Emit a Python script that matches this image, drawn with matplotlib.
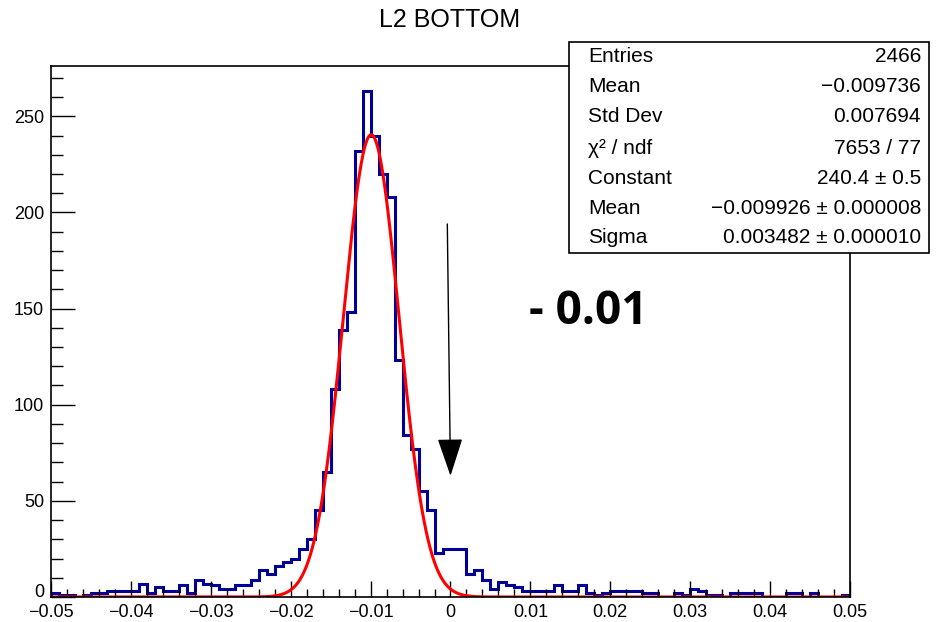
import numpy as np
import matplotlib
matplotlib.use("Agg")
import matplotlib.pyplot as plt
from matplotlib import font_manager
from matplotlib.patches import Rectangle
from matplotlib.ticker import MultipleLocator, FuncFormatter

# histogram: 100 bins from -0.05 to 0.05
x_lo, x_hi, n_bins = -0.05, 0.05, 100
counts = [2, 1, 1, 0, 1, 2, 2, 3, 3, 3,
          3, 7, 2, 5, 3, 3, 6, 2, 9, 7,
          6, 4, 4, 6, 6, 9, 14, 12, 16, 18,
          20, 25, 30, 45, 65, 108, 139, 148, 232, 263,
          240, 220, 208, 123, 84, 77, 55, 45, 23, 25,
          25, 25, 12, 14, 9, 4, 8, 6, 5, 3,
          3, 3, 3, 6, 3, 3, 6, 2, 1, 2,
          3, 3, 3, 3, 2, 2, 0, 0, 2, 1,
          4, 3, 1, 1, 0, 2, 2, 2, 2, 0,
          0, 0, 2, 2, 0, 2, 0, 0, 0, 1]

# gaussian fit parameters from the stat box
fit_const = 240.4
fit_mean = -0.009926
fit_sigma = 0.003482

stat_labels = ["Entries", "Mean", "Std Dev", "χ² / ndf", "Constant", "Mean", "Sigma"]
stat_values = ["2466", "−0.009736", "0.007694", "7653 / 77",
               "240.4 ± 0.5", "−0.009926 ± 0.000008", "0.003482 ± 0.000010"]

title = "L2 BOTTOM"
note_text = "- 0.01"
arrow_x = 0.0


def pick(*names):
    for n in names:
        try:
            font_manager.findfont(n, fallback_to_default=False)
            return n
        except ValueError:
            pass
    return "DejaVu Sans"


SANS = pick("Liberation Sans", "DejaVu Sans")
BOLD = pick("Open Sans", "Noto Sans", "DejaVu Sans")

W, H = 937, 622
fig = plt.figure(figsize=(W / 100, H / 100), dpi=100)
fig.patch.set_facecolor("white")


def fx(px):
    return px / W


def fy(py):
    return 1 - py / H


ax = fig.add_axes([fx(51), fy(597), fx(850) - fx(51), fy(66) - fy(597)])

edges = np.linspace(x_lo, x_hi, n_bins + 1)
ax.stairs(counts, edges, color="#000099", linewidth=2.2, baseline=0)

xs = np.linspace(x_lo, x_hi, 800)
ax.plot(xs, fit_const * np.exp(-0.5 * ((xs - fit_mean) / fit_sigma) ** 2),
        color="#ff0000", linewidth=2.2)

ax.set_xlim(x_lo, x_hi)
ax.set_ylim(0, 1.05 * max(counts))

for s in ax.spines.values():
    s.set_linewidth(1.2)
    s.set_color("black")

ax.xaxis.set_major_locator(MultipleLocator(0.01))
ax.xaxis.set_minor_locator(MultipleLocator(0.002))
ax.yaxis.set_major_locator(MultipleLocator(50))
ax.yaxis.set_minor_locator(MultipleLocator(10))


def root_fmt(v, pos):
    if abs(v) < 1e-12:
        return "0"
    return f"{v:g}".replace("-", "−")


def y_fmt(v, pos):
    # the "0" on y is drawn separately, lifted a bit above the x labels
    if abs(v) < 1e-12:
        return ""
    return root_fmt(v, pos)


ax.xaxis.set_major_formatter(FuncFormatter(root_fmt))
ax.yaxis.set_major_formatter(FuncFormatter(y_fmt))

ax.tick_params(axis="x", which="major", direction="in", length=11.5, width=1.0, pad=5)
ax.tick_params(axis="x", which="minor", direction="in", length=5.8, width=1.0)
ax.tick_params(axis="y", which="major", direction="in", length=17, width=1.0, pad=5)
ax.tick_params(axis="y", which="minor", direction="in", length=8.6, width=1.0)
ax.tick_params(top=False, right=False)
for lab in ax.get_xticklabels() + ax.get_yticklabels():
    lab.set_fontfamily(SANS)
    lab.set_fontsize(13)

ax.annotate("0", xy=(0, 0), xycoords=("axes fraction", "data"),
            xytext=(-5, 3), textcoords="offset points",
            ha="right", va="center", fontsize=13, family=SANS)

fig.text(fx(450), fy(20), title, ha="center", va="center",
         fontsize=18, family=SANS)

# arrow and note
ax.annotate("", xy=(arrow_x, 63), xytext=(arrow_x - 0.0004, 194),
            arrowprops=dict(arrowstyle="-|>,head_length=2.4,head_width=0.8",
                            color="black", lw=1.0, shrinkA=0, shrinkB=0))
fig.text(fx(588), fy(311), note_text, ha="center", va="center",
         fontsize=33, fontweight="bold", family=BOLD)

# stat box
box = Rectangle((fx(569), fy(253)), fx(929) - fx(569), fy(42) - fy(253),
                transform=fig.transFigure, facecolor="white",
                edgecolor="black", linewidth=1.2, zorder=10)
fig.patches.append(box)
row_y = [57, 87, 117, 148, 179, 209, 237]
for lab, val, yy in zip(stat_labels, stat_values, row_y):
    fig.text(fx(588), fy(yy), lab, ha="left", va="center",
             fontsize=15, family=SANS, zorder=11)
    fig.text(fx(921), fy(yy), val, ha="right", va="center",
             fontsize=15, family=SANS, zorder=11)

fig.savefig("out.png", dpi=100)
